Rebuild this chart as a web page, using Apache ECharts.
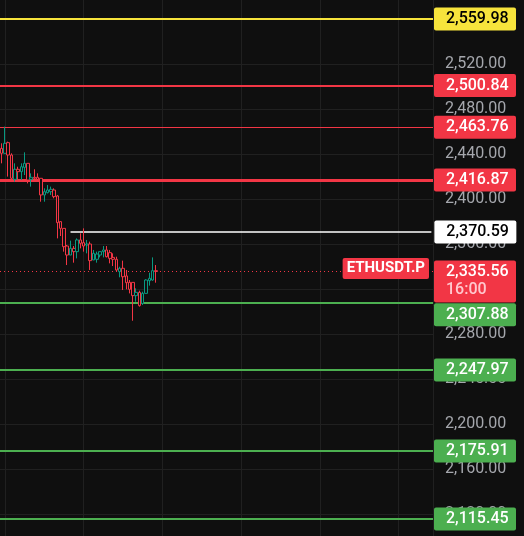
<!DOCTYPE html>
<html>
<head>
<meta charset="utf-8">
<script src="https://cdn.jsdelivr.net/npm/echarts@6/dist/echarts.min.js"></script>
<style>
  html, body { margin: 0; padding: 0; background: #0f0f0f; }
  #chart { width: 524px; height: 536px; }
</style>
</head>
<body>
<div id="chart"></div>
<script>
// candles: [open, close, low, high]
var candles = [
  [2445.0, 2440.6, 2431.7, 2449.5],
  [2440.6, 2449.5, 2440.6, 2464.3],
  [2450.1, 2439.1, 2419.9, 2451.0],
  [2439.1, 2418.4, 2415.4, 2440.6],
  [2417.5, 2426.4, 2415.4, 2431.7],
  [2426.4, 2424.3, 2415.4, 2428.7],
  [2424.3, 2428.7, 2416.9, 2431.7],
  [2428.1, 2431.7, 2421.3, 2441.5],
  [2431.7, 2416.9, 2413.9, 2431.7],
  [2417.5, 2419.3, 2411.0, 2422.8],
  [2419.3, 2418.4, 2415.4, 2426.4],
  [2419.3, 2417.5, 2415.4, 2422.8],
  [2418.4, 2403.6, 2397.6, 2418.4],
  [2403.6, 2406.5, 2397.6, 2409.5],
  [2405.6, 2408.0, 2405.0, 2412.4],
  [2406.5, 2408.6, 2403.6, 2411.0],
  [2408.0, 2402.1, 2400.6, 2409.5],
  [2402.7, 2379.0, 2365.0, 2403.6],
  [2379.9, 2373.9, 2367.1, 2379.9],
  [2373.9, 2357.6, 2353.2, 2373.9],
  [2358.2, 2350.2, 2341.3, 2359.1],
  [2350.2, 2356.1, 2350.2, 2363.0],
  [2356.1, 2353.2, 2343.4, 2358.2],
  [2353.2, 2363.6, 2347.2, 2365.0],
  [2363.6, 2360.6, 2356.1, 2369.5],
  [2361.2, 2358.2, 2353.2, 2373.9],
  [2359.1, 2360.0, 2351.7, 2363.6],
  [2360.0, 2345.2, 2336.9, 2362.1],
  [2345.8, 2351.7, 2345.8, 2354.7],
  [2346.4, 2351.1, 2343.4, 2353.2],
  [2350.2, 2353.2, 2348.1, 2353.2],
  [2353.2, 2354.7, 2348.1, 2358.2],
  [2354.7, 2348.7, 2348.1, 2358.2],
  [2352.3, 2347.2, 2342.8, 2354.7],
  [2348.1, 2346.4, 2340.4, 2351.7],
  [2346.4, 2336.9, 2335.4, 2348.7],
  [2335.4, 2338.4, 2330.4, 2339.8],
  [2338.4, 2330.9, 2319.1, 2345.2],
  [2331.6, 2325.6, 2319.7, 2336.9],
  [2325.9, 2319.7, 2316.1, 2328.0],
  [2325.9, 2314.1, 2291.8, 2325.9],
  [2314.1, 2317.0, 2308.7, 2320.6],
  [2317.0, 2305.2, 2304.3, 2318.5],
  [2307.2, 2316.1, 2305.8, 2317.6],
  [2316.1, 2328.0, 2316.1, 2328.6],
  [2327.4, 2329.5, 2323.0, 2334.5],
  [2328.0, 2336.3, 2327.4, 2348.1],
  [2336.3, 2335.56, 2325.6, 2341.3]
];
var slotCount = 132;          // candle slots across the plot (incl. empty future)
var resistance = [2559.98, 2500.84, 2463.76, 2416.87];
var supports = [2307.88, 2247.97, 2175.91, 2115.45];
var entryPrice = 2370.59;
var entryFrom = 21;           // candle index where the entry line starts
var lastPrice = 2335.56;
var ticker = 'ETHUSDT.P';
var timeLeft = '16:00';

var slots = [];
for (var i = 0; i < slotCount; i++) slots.push(String(i));
var halfSlots = [];
for (var j = 0; j < slotCount * 2; j++) halfSlots.push(String(j));

function fmt(v) {
  var s = Number(v).toFixed(2).split('.');
  return s[0].replace(/\B(?=(\d{3})+(?!\d))/g, ',') + '.' + s[1];
}

var RED = '#f23645', GREEN = '#4caf50', YELLOW = '#f7e43c';
var FONT = 'Roboto';

function boxLabel(value, bg, fg) {
  return {
    show: true,
    position: 'end',
    distance: 1,
    formatter: fmt(value),
    backgroundColor: bg,
    color: fg,
    fontFamily: FONT,
    fontSize: 16,
    fontWeight: 500,
    lineHeight: 17,
    width: 64,
    padding: [3, 6, 3, 12],
    borderRadius: 2
  };
}

var resStyles = [
  { color: YELLOW, width: 2, fg: '#000' },
  { color: RED, width: 2, fg: '#fff' },
  { color: RED, width: 1, fg: '#fff' },
  { color: RED, width: 3, fg: '#fff' }
];

var lines = [];
resistance.forEach(function (v, k) {
  var st = resStyles[k];
  lines.push({ yAxis: v, lineStyle: { color: st.color, width: st.width, type: 'solid' }, label: boxLabel(v, st.color, st.fg) });
});
supports.forEach(function (v, k) {
  var lb = boxLabel(v, GREEN, '#fff');
  if (k === 0) lb.offset = [0, 12];   // pushed below the last-price box
  lines.push({ yAxis: v, lineStyle: { color: GREEN, width: 2, type: 'solid' }, label: lb });
});
// entry line, starts mid chart
var entryLabel = boxLabel(entryPrice, '#ffffff', '#000');
entryLabel.distance = 3;
lines.push([
  { coord: [entryFrom, entryPrice], lineStyle: { color: '#ffffff', width: 1.5, type: 'solid' }, label: entryLabel },
  { coord: [slotCount - 1, entryPrice] }
]);
// last price: ticker tag + dotted line + price/time box
lines.push({
  yAxis: lastPrice,
  lineStyle: { color: 'rgba(0,0,0,0)', width: 0 },
  label: {
    show: true,
    position: 'insideEnd',
    distance: 4,
    formatter: ticker,
    backgroundColor: RED,
    color: '#fff',
    fontFamily: FONT,
    fontSize: 15,
    fontWeight: 'bold',
    lineHeight: 16,
    padding: [3, 4, 2, 4],
    offset: [0, -3],
    borderRadius: 2
  }
});
var priceLabel = boxLabel(lastPrice, RED, '#fff');
priceLabel.formatter = '{p|' + fmt(lastPrice) + '}\n{t|' + timeLeft + '}';
priceLabel.rich = {
  p: { color: '#fff', fontFamily: FONT, fontSize: 16, fontWeight: 500, lineHeight: 18 },
  t: { color: '#ffc8ce', fontFamily: FONT, fontSize: 16, fontWeight: 500, lineHeight: 18 }
};
priceLabel.offset = [0, 10];
lines.push({ yAxis: lastPrice, lineStyle: { color: RED, width: 1, type: [1, 3] }, label: priceLabel });

var chart = echarts.init(document.getElementById('chart'));
chart.setOption({
  backgroundColor: '#0f0f0f',
  animation: false,
  grid: { left: 0, right: 91, top: -26, bottom: -23, containLabel: false, outerBoundsMode: 'none' },
  xAxis: [
    {
      type: 'category',
      data: slots,
      boundaryGap: true,
      axisLine: { show: false },
      axisTick: { show: false },
      axisLabel: { show: false },
      splitLine: { show: false }
    },
    {
      type: 'category',
      data: halfSlots,
      boundaryGap: true,
      axisLine: { show: false },
      axisTick: { show: false },
      axisLabel: { show: false },
      splitLine: {
        show: true,
        interval: function (idx) { return idx % 48 === 3; },
        lineStyle: { color: '#202020', width: 1 }
      }
    }
  ],
  yAxis: {
    type: 'value',
    position: 'right',
    min: 2080,
    max: 2600,
    interval: 40,
    z: 0,
    axisLine: { show: false },
    axisTick: { show: false },
    axisLabel: {
      margin: 12,
      color: '#a5a7ad',
      fontFamily: FONT,
      fontSize: 16,
      formatter: function (v) { return fmt(v); }
    },
    splitLine: { lineStyle: { color: '#202020', width: 1 } }
  },
  series: [
    {
      type: 'candlestick',
      xAxisIndex: 0,
      data: candles,
      barWidth: 3,
      clip: false,
      z: 10,
      itemStyle: {
        color: '#0f0f0f',
        color0: '#0f0f0f',
        borderColor: '#089981',
        borderColor0: RED,
        borderWidth: 1
      },
      markLine: {
        silent: true,
        symbol: 'none',
        animation: false,
        z: 10,
        data: lines
      }
    }
  ]
});
</script>
</body>
</html>
